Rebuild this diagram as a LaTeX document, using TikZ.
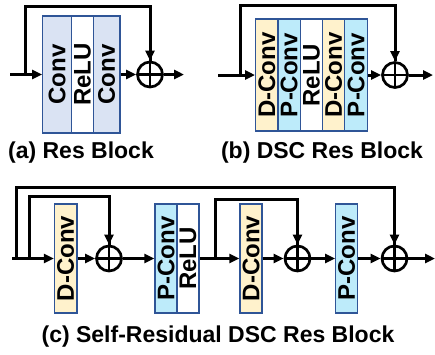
\documentclass[tikz,border=0pt]{standalone}
\usepackage{fontspec}
\setmainfont{Liberation Sans}
\usetikzlibrary{arrows.meta}
\definecolor{convfill}{HTML}{DAE3F3}
\definecolor{dfill}{HTML}{FFF2CC}
\definecolor{pfill}{HTML}{BDEBFA}
\definecolor{edge}{HTML}{2F5597}
\tikzset{
  blk/.style={draw=edge, line width=1.2pt, rotate=90, inner sep=0pt,
    minimum width=#1, minimum height=22.4pt,
    font=\fontsize{24}{24}\selectfont\bfseries},
  blk/.default=112pt,
  add/.style={circle, draw, line width=2.7pt, minimum size=25pt, inner sep=0pt,
    path picture={\draw[line width=2.7pt]
      (path picture bounding box.north) -- (path picture bounding box.south)
      (path picture bounding box.west) -- (path picture bounding box.east);}},
  ln/.style={line width=3pt},
  arr/.style={line width=3pt, -{Triangle[length=10pt,width=9pt]}},
  capt/.style={font=\fontsize{23}{23}\selectfont\bfseries}
}
\begin{document}
\begin{tikzpicture}[x=1pt,y=-1pt]
\useasboundingbox (0,0) rectangle (435,354);

% (a)
\node[blk=117pt, fill=convfill, minimum height=29pt] (a1) at (57.2,74.5) {Conv};
\node[blk=117pt, fill=white, minimum height=21.6pt] (a2) at (82.5,74.5) {ReLU};
\node[blk=117pt, fill=convfill, minimum height=26.7pt] (a3) at (106.6,74.5) {Conv};
\node[add] (adda) at (150,74.5) {};
\coordinate (ina) at (10,74.5);
\coordinate (sa) at (25,74.5);
\coordinate (ta) at (25,6);
\coordinate (outa) at (184,74.5);
\draw[arr] (ina) -- (a1);
\draw[ln] (sa) -- (ta) -| (adda);
\draw[arr] (ta -| adda) -- (adda);
\draw[arr] (a3) -- (adda);
\draw[arr] (adda) -- (outa);
\node[capt] (capa) at (81,153) {(a) Res Block};

% (b)
\foreach \t/\c [count=\i] in {D-Conv/dfill, P-Conv/pfill, ReLU/white, D-Conv/dfill, P-Conv/pfill}
  \node[blk, fill=\c] (b\i) at (244.5+22.3*\i,75) {\t};
\node[add] (addb) at (395,75) {};
\coordinate (inb) at (218,75);
\coordinate (sb) at (240,75);
\coordinate (tb) at (240,5);
\coordinate (outb) at (433,75);
\draw[arr] (inb) -- (b1);
\draw[ln] (sb) -- (tb) -| (addb);
\draw[arr] (tb -| addb) -- (addb);
\draw[arr] (b5) -- (addb);
\draw[arr] (addb) -- (outb);
\node[capt] (capb) at (322,153) {(b) DSC Res Block};

% (c)
\node[blk=109pt, fill=dfill] (c1) at (65.7,258.5) {D-Conv};
\node[blk=109pt, fill=pfill, minimum height=22pt] (c2) at (166,258.5) {P-Conv};
\node[blk=109pt, fill=white, minimum height=22pt] (c3) at (188,258.5) {ReLU};
\node[blk=109pt, fill=dfill, minimum height=22pt] (c4) at (251,258.5) {D-Conv};
\node[blk=109pt, fill=pfill, minimum height=22pt] (c5) at (346.7,258.5) {P-Conv};
\node[add] (addc1) at (109,258.5) {};
\node[add] (addc2) at (297.5,258.5) {};
\node[add] (addc3) at (394.5,258.5) {};
\coordinate (inc) at (12,258.5);
\coordinate (so) at (16,258.5);
\coordinate (to) at (16,187);
\coordinate (s1) at (29,258.5);
\coordinate (t1) at (29,196);
\coordinate (s2) at (215,258.5);
\coordinate (t2) at (215,199);
\coordinate (outc) at (435,258.5);
\draw[arr] (inc) -- (c1);
\draw[ln] (so) -- (to) -| (addc3);
\draw[arr] (to -| addc3) -- (addc3);
\draw[ln] (s1) -- (t1) -| (addc1);
\draw[arr] (t1 -| addc1) -- (addc1);
\draw[ln] (s2) -- (t2) -| (addc2);
\draw[arr] (t2 -| addc2) -- (addc2);
\draw[arr] (c1) -- (addc1);
\draw[arr] (addc1) -- (c2);
\draw[arr] (c3) -- (c4);
\draw[arr] (c4) -- (addc2);
\draw[arr] (addc2) -- (c5);
\draw[arr] (c5) -- (addc3);
\draw[arr] (addc3) -- (outc);
\node[capt] (capc) at (218,337) {(c) Self-Residual DSC Res Block};

\end{tikzpicture}
\end{document}
